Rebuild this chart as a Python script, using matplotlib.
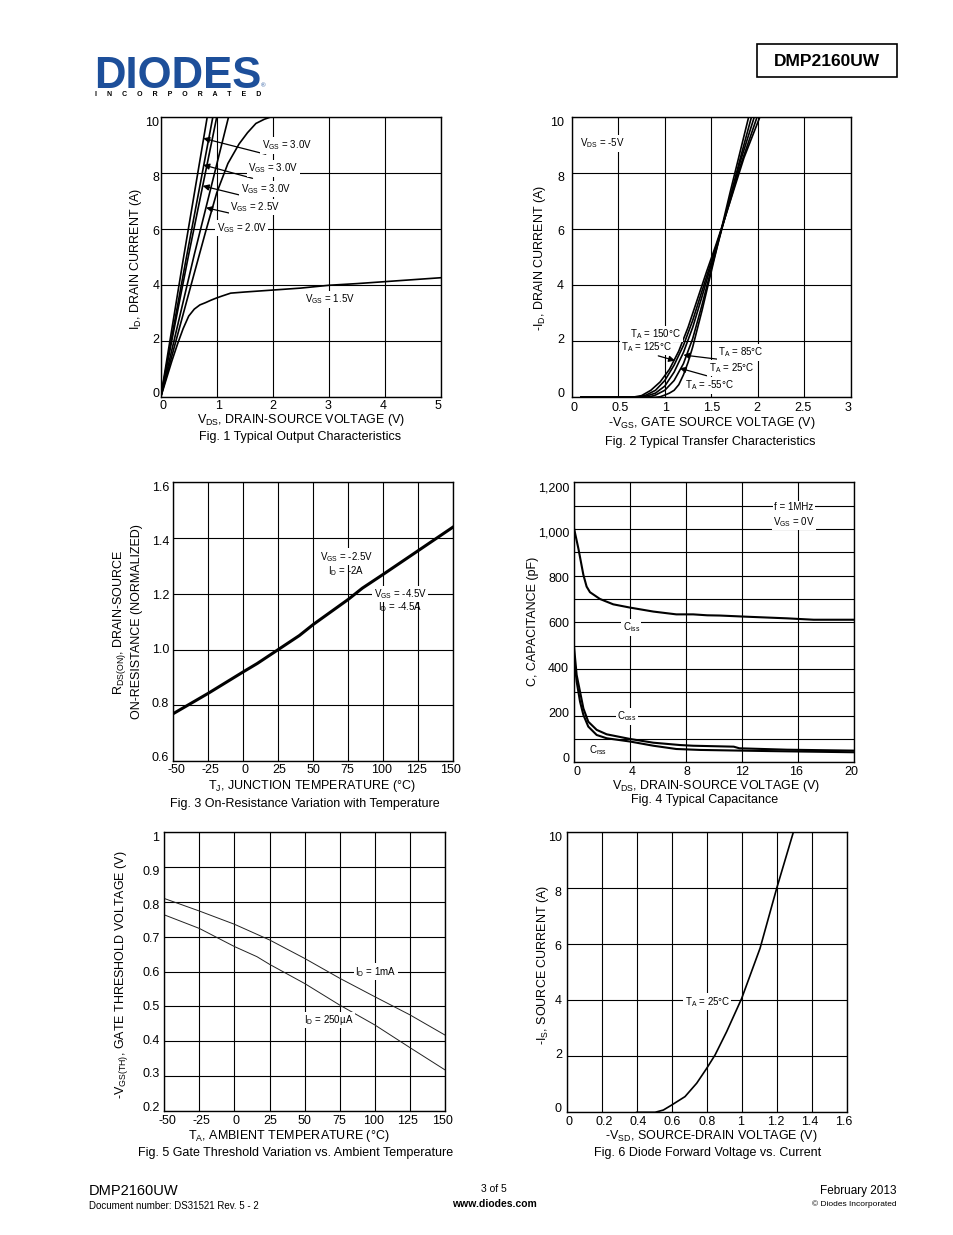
import matplotlib
matplotlib.use("Agg")
import matplotlib.pyplot as plt
from matplotlib.lines import Line2D
from matplotlib.patches import Rectangle
import numpy as np

plt.rcParams['font.family'] = ['Liberation Sans', 'DejaVu Sans']
plt.rcParams['mathtext.fontset'] = 'custom'
plt.rcParams['mathtext.rm'] = 'Liberation Sans'
plt.rcParams['mathtext.it'] = 'Liberation Sans:italic'
plt.rcParams['mathtext.bf'] = 'Liberation Sans:bold'

# ---------------- DATA ----------------
# Fig 1 : output characteristics
f1_vds_a = [0, 0.4, 0.83]
f1_id_a = [0, 4.9, 10]
f1_vds_b = [0, 0.45, 0.93]
f1_id_b = [0, 4.9, 10]
f1_vds_c = [0, 0.5, 1.0]
f1_id_c = [0, 5.1, 10]
f1_vds_25 = [0, 0.6, 1.21]
f1_id_25 = [0, 5.1, 10]
f1_vds_20 = [0, 0.5, 0.8, 1.0, 1.2, 1.4, 1.55, 1.7, 1.85, 1.95]
f1_id_20 = [0, 3.7, 5.9, 7.3, 8.35, 9.05, 9.45, 9.78, 9.93, 10.0]
f1_vds_15 = [0, 0.1, 0.2, 0.3, 0.4, 0.5, 0.6, 0.7, 0.8, 0.9, 1.0, 1.1, 1.25, 1.5, 2.0, 2.5, 3.0, 3.5, 4.0, 4.5, 5.0]
f1_id_15 = [0, 0.65, 1.3, 1.9, 2.45, 2.9, 3.15, 3.3, 3.38, 3.47, 3.55, 3.62, 3.72, 3.76, 3.83, 3.9, 4.0, 4.06, 4.13, 4.2, 4.27]
f1_xticks = [0, 1, 2, 3, 4, 5]
f1_yticks = [0, 2, 4, 6, 8, 10]

# Fig 2 : transfer characteristics
f2_vgs_m55 = [0.1, 0.9, 0.95, 1.0, 1.05, 1.1, 1.15, 1.2, 1.25, 1.3, 1.4, 1.5, 1.6, 1.7, 1.8, 1.9]
f2_id_m55 = [0, 0, 0.02, 0.08, 0.15, 0.25, 0.45, 0.8, 1.25, 1.8, 3.1, 4.5, 5.9, 7.3, 8.65, 10]
f2_vgs_25 = [0.1, 0.8, 0.85, 0.9, 1.0, 1.1, 1.2, 1.3, 1.4, 1.5, 1.6, 1.7, 1.8, 1.93]
f2_id_25 = [0, 0, 0.03, 0.08, 0.25, 0.6, 1.2, 2.1, 3.3, 4.6, 5.85, 7.1, 8.4, 10]
f2_vgs_85 = [0.1, 0.75, 0.8, 0.9, 1.0, 1.1, 1.2, 1.3, 1.4, 1.5, 1.6, 1.7, 1.8, 1.96]
f2_id_85 = [0, 0, 0.04, 0.15, 0.4, 0.9, 1.6, 2.5, 3.6, 4.75, 5.9, 7.1, 8.3, 10]
f2_vgs_125 = [0.1, 0.7, 0.8, 0.9, 1.0, 1.1, 1.2, 1.3, 1.4, 1.5, 1.6, 1.7, 1.8, 1.99]
f2_id_125 = [0, 0, 0.08, 0.25, 0.6, 1.15, 1.85, 2.75, 3.8, 4.85, 5.9, 7.0, 8.15, 10]
f2_vgs_150 = [0.1, 0.65, 0.75, 0.85, 0.95, 1.05, 1.15, 1.25, 1.35, 1.45, 1.55, 1.65, 1.75, 1.85, 2.02]
f2_id_150 = [0, 0, 0.06, 0.25, 0.55, 1.0, 1.65, 2.5, 3.5, 4.5, 5.45, 6.45, 7.5, 8.55, 10]
f2_xticks = [0, 0.5, 1, 1.5, 2, 2.5, 3]
f2_xlabels = ['0', '0.5', '1', '1.5', '2', '2.5', '3']
f2_yticks = [0, 2, 4, 6, 8, 10]

# Fig 3 : on-resistance vs temperature
f3_tj = [-50, -25, 0, 10, 25, 40, 50, 75, 85, 100, 125, 150]
f3_rds = [0.77, 0.843, 0.92, 0.95, 1.0, 1.05, 1.09, 1.18, 1.22, 1.27, 1.355, 1.44]
f3_xticks = [-50, -25, 0, 25, 50, 75, 100, 125, 150]
f3_yticks = [0.6, 0.8, 1.0, 1.2, 1.4, 1.6]
f3_ylabels = ['0.6', '0.8', '1.0', '1.2', '1.4', '1.6']

# Fig 4 : capacitance
f4_vds_ciss = [0, 0.31, 0.67, 0.9, 1.14, 1.85, 2.8, 4.0, 5.66, 7.3, 8.5, 9.5, 10.4, 12.3, 15.2, 17.1, 20]
f4_ciss = [1003, 917, 803, 753, 729, 700, 677, 663, 646, 634, 634, 630, 629, 624, 617, 611, 611]
f4_vds_coss = [0, 0.19, 0.43, 0.67, 1.02, 1.62, 2.33, 4.0, 5.66, 7.56, 8.5, 11.4, 11.8, 15.2, 20]
f4_coss = [496, 374, 303, 231, 174, 139, 120, 100, 84, 74, 71, 67, 60, 54, 50]
f4_vds_crss = [0, 0.19, 0.43, 0.67, 1.02, 1.62, 2.33, 4.0, 5.66, 7.3, 9.0, 14.0, 20]
f4_crss = [453, 346, 260, 203, 153, 117, 103, 89, 71, 57, 53, 48, 43]
f4_xticks = [0, 4, 8, 12, 16, 20]
f4_yticks = [0, 200, 400, 600, 800, 1000, 1200]
f4_ylabels = ['0', '200', '400', '600', '800', '1,000', '1,200']

# Fig 5 : gate threshold vs temperature
f5_ta = [-50, -25, 0, 25, 50, 75, 100, 125, 150]
f5_vth_1ma = [0.81, 0.774, 0.736, 0.691, 0.638, 0.581, 0.528, 0.476, 0.418]
f5_ta_250 = [-50, -25, 0, 16, 25, 50, 75, 100, 125, 150]
f5_vth_250ua = [0.763, 0.724, 0.672, 0.643, 0.621, 0.566, 0.504, 0.447, 0.382, 0.318]
f5_xticks = [-50, -25, 0, 25, 50, 75, 100, 125, 150]
f5_yticks = [0.2, 0.3, 0.4, 0.5, 0.6, 0.7, 0.8, 0.9, 1.0]
f5_ylabels = ['0.2', '0.3', '0.4', '0.5', '0.6', '0.7', '0.8', '0.9', '1']

# Fig 6 : diode forward voltage
f6_vsd = [0.4, 0.505, 0.552, 0.6, 0.676, 0.743, 0.8, 0.848, 0.914, 1.0, 1.105, 1.2, 1.295]
f6_is = [0, 0, 0.08, 0.26, 0.56, 1.04, 1.57, 2.05, 2.88, 4.07, 5.86, 8.0, 10]
f6_xticks = [0, 0.2, 0.4, 0.6, 0.8, 1.0, 1.2, 1.4, 1.6]
f6_xlabels = ['0', '0.2', '0.4', '0.6', '0.8', '1', '1.2', '1.4', '1.6']
f6_yticks = [0, 2, 4, 6, 8, 10]

# ---------------- FIGURE ----------------
W, H = 954, 1235
fig = plt.figure(figsize=(W / 100, H / 100), dpi=100)
fig.patch.set_facecolor('white')

TICK_FS = 9
ANN_FS = 7
BOX = dict(facecolor='white', edgecolor='none', pad=1.0)
KX, KY = 0.98, 0.967   # tick-label spread relative to the grid (as in the source drawing)


def add_ax(l, r, t, b):
    return fig.add_axes([l / W, 1 - b / H, (r - l) / W, (b - t) / H])


def ftext(x, y, s, **kw):
    return fig.text(x / W, 1 - y / H, s, **kw)


def squeeze(vals, lim, k):
    c = 0.5 * (lim[0] + lim[1])
    return [c + (v - c) * k for v in vals]


def style(ax, xlim, ylim, xticks, yticks, xlabels=None, ylabels=None,
          xgrid=None, ygrid=None, xpad=2, ypad=3):
    ax.set_xlim(*xlim)
    ax.set_ylim(*ylim)
    ax.set_xticks(squeeze(xticks, xlim, KX))
    ax.set_yticks(squeeze(yticks, ylim, KY))
    ax.set_xticklabels(xlabels if xlabels is not None else [str(v) for v in xticks])
    ax.set_yticklabels(ylabels if ylabels is not None else [str(v) for v in yticks])
    ax.tick_params(axis='both', which='both', length=0, labelsize=TICK_FS)
    ax.tick_params(axis='x', pad=xpad)
    ax.tick_params(axis='y', pad=ypad)
    gx = xticks if xgrid is None else xgrid
    gy = yticks if ygrid is None else ygrid
    for v in gx:
        ax.axvline(v, color='black', lw=0.8, zorder=1)
    for v in gy:
        ax.axhline(v, color='black', lw=0.8, zorder=1)
    for s in ax.spines.values():
        s.set_linewidth(1.0)
        s.set_zorder(5)


def arrow(ax, xy, xytext):
    ax.annotate('', xy=xy, xytext=xytext,
                arrowprops=dict(arrowstyle='-|>', color='black', lw=0.9,
                                mutation_scale=9, shrinkA=0, shrinkB=0),
                zorder=6)


VGS = r'V$_{\mathregular{GS}}$'
TA = r'T$_{\mathregular{A}}$'
ID = r'I$_{\mathregular{D}}$'

# ---- Fig 1 ----
ax1 = add_ax(160.7, 440.7, 117.3, 397.3)
style(ax1, (0, 5), (0, 10), f1_xticks, f1_yticks, xpad=2, ypad=1)
for xs, ys in [(f1_vds_a, f1_id_a), (f1_vds_b, f1_id_b), (f1_vds_c, f1_id_c),
               (f1_vds_25, f1_id_25), (f1_vds_20, f1_id_20), (f1_vds_15, f1_id_15)]:
    ax1.plot(xs, ys, color='black', lw=1.2, zorder=3, clip_on=True)
ax1.text(1.80, 9.0, VGS + ' = 3.0V', fontsize=ANN_FS, va='center', bbox=BOX, zorder=7)
arrow(ax1, (0.76, 9.25), (1.875, 8.68))
ax1.text(1.565, 8.18, VGS + ' = 3.0V', fontsize=ANN_FS, va='center', bbox=BOX, zorder=7)
arrow(ax1, (0.76, 8.30), (1.64, 7.82))
ax1.text(1.43, 7.44, VGS + ' = 3.0V', fontsize=ANN_FS, va='center', bbox=BOX, zorder=7)
arrow(ax1, (0.75, 7.55), (1.48, 7.19))
ax1.text(1.24, 6.79, VGS + ' = 2.5V', fontsize=ANN_FS, va='center', bbox=BOX, zorder=7)
arrow(ax1, (0.81, 6.77), (1.29, 6.55))
ax1.text(1.0, 6.04, VGS + ' = 2.0V', fontsize=ANN_FS, va='center', bbox=BOX, zorder=7)
ax1.text(2.58, 3.5, VGS + ' = 1.5V', fontsize=ANN_FS, va='center', bbox=BOX, zorder=7)
ftext(301, 420, r'V$_{\mathregular{DS}}$, DRAIN-SOURCE VOLTAGE (V)', fontsize=9, ha='center', va='center')
ftext(300, 437, 'Fig. 1 Typical Output Characteristics', fontsize=9, ha='center', va='center')
ftext(136, 259, r'I$_{\mathregular{D}}$, DRAIN CURRENT (A)', fontsize=9, ha='center', va='center', rotation=90)

# ---- Fig 2 ----
ax2 = add_ax(571.7, 851, 117.3, 397.3)
style(ax2, (0, 3), (0, 10), f2_xticks, f2_yticks, xlabels=f2_xlabels, xpad=3.5, ypad=5.5)
for xs, ys in [(f2_vgs_m55, f2_id_m55), (f2_vgs_25, f2_id_25), (f2_vgs_85, f2_id_85),
               (f2_vgs_125, f2_id_125), (f2_vgs_150, f2_id_150)]:
    ax2.plot(xs, ys, color='black', lw=1.2, zorder=3)
ax2.text(0.09, 9.07, r'V$_{\mathregular{DS}}$ = -5V', fontsize=ANN_FS, va='center', bbox=BOX, zorder=7)
ax2.text(0.63, 2.26, TA + ' = 150°C', fontsize=ANN_FS, va='center', bbox=BOX, zorder=7)
ax2.text(0.53, 1.79, TA + ' = 125°C', fontsize=ANN_FS, va='center', bbox=BOX, zorder=7)
arrow(ax2, (1.11, 1.31), (0.93, 1.48))
ax2.text(1.57, 1.6, TA + ' = 85°C', fontsize=ANN_FS, va='center', bbox=BOX, zorder=7)
arrow(ax2, (1.2, 1.51), (1.57, 1.36))
ax2.text(1.47, 1.04, TA + ' = 25°C', fontsize=ANN_FS, va='center', bbox=BOX, zorder=7)
arrow(ax2, (1.16, 1.04), (1.45, 0.77))
ax2.text(1.22, 0.43, TA + ' = -55°C', fontsize=ANN_FS, va='center', bbox=BOX, zorder=7)
ftext(712, 423, r'-V$_{\mathregular{GS}}$, GATE SOURCE VOLTAGE (V)', fontsize=9, ha='center', va='center')
ftext(710, 442, 'Fig. 2 Typical Transfer Characteristics', fontsize=9, ha='center', va='center')
ftext(540, 258, r'-I$_{\mathregular{D}}$, DRAIN CURRENT (A)', fontsize=9, ha='center', va='center', rotation=90)

# ---- Fig 3 ----
ax3 = add_ax(173.3, 453.3, 482.3, 761)
style(ax3, (-50, 150), (0.6, 1.6), f3_xticks, f3_yticks, ylabels=f3_ylabels, xpad=2, ypad=3)
ax3.plot(f3_tj, f3_rds, color='black', lw=2.2, zorder=3)
ax3.text(73.8, 1.333, VGS + ' = -2.5V', fontsize=ANN_FS, ha='center', va='center', bbox=BOX, zorder=7)
ax3.text(73.8, 1.283, ID + ' = -2A', fontsize=ANN_FS, ha='center', va='center', zorder=7)
ax3.text(112, 1.2, VGS + ' = -4.5V', fontsize=ANN_FS, ha='center', va='center', bbox=BOX, zorder=7)
ax3.text(112, 1.154, ID + ' = -4.5A', fontsize=ANN_FS, ha='center', va='center', zorder=7)
ftext(312, 786, r'T$_{\mathregular{J}}$, JUNCTION TEMPERATURE (°C)', fontsize=9, ha='center', va='center')
ftext(305, 804, 'Fig. 3 On-Resistance Variation with Temperature', fontsize=9, ha='center', va='center')
ftext(120, 622, r'R$_{\mathregular{DS(ON)}}$, DRAIN-SOURCE', fontsize=9, ha='center', va='center', rotation=90)
ftext(137, 622, 'ON-RESISTANCE (NORMALIZED)', fontsize=9, ha='center', va='center', rotation=90)

# ---- Fig 4 ----
ax4 = add_ax(574, 854.3, 482.3, 762.3)
style(ax4, (0, 20), (0, 1200), f4_xticks, f4_yticks, ylabels=f4_ylabels,
      ygrid=list(range(0, 1201, 100)), xpad=2.5, ypad=3.5)
ax4.plot(f4_vds_ciss, f4_ciss, color='black', lw=1.5, zorder=3)
ax4.plot(f4_vds_coss, f4_coss, color='black', lw=1.5, zorder=3)
ax4.plot(f4_vds_crss, f4_crss, color='black', lw=1.5, zorder=3)
ax4.text(15.7, 1093, 'f = 1MHz', fontsize=ANN_FS, ha='center', va='center', bbox=BOX, zorder=7)
ax4.text(15.7, 1029, VGS + ' = 0V', fontsize=ANN_FS, ha='center', va='center', bbox=BOX, zorder=7)
ax4.text(4.1, 578, r'C$_{\mathregular{iss}}$', fontsize=ANN_FS, ha='center', va='center', bbox=BOX, zorder=7)
ax4.text(3.8, 196, r'C$_{\mathregular{oss}}$', fontsize=ANN_FS, ha='center', va='center', bbox=BOX, zorder=7)
ax4.text(1.73, 53, r'C$_{\mathregular{rss}}$', fontsize=ANN_FS, ha='center', va='center', zorder=7)
ftext(716, 786, r'V$_{\mathregular{DS}}$, DRAIN-SOURCE VOLTAGE (V)', fontsize=9, ha='center', va='center')
ftext(705, 800, 'Fig. 4 Typical Capacitance', fontsize=9, ha='center', va='center')
ftext(533, 621, 'C, CAPACITANCE (pF)', fontsize=9, ha='center', va='center', rotation=90)

# ---- Fig 5 ----
ax5 = add_ax(164.3, 445, 832.3, 1111)
style(ax5, (-50, 150), (0.2, 1.0), f5_xticks, f5_yticks, ylabels=f5_ylabels, xpad=3, ypad=3.5)
ax5.plot(f5_ta, f5_vth_1ma, color='#222222', lw=0.7, zorder=3)
ax5.plot(f5_ta_250, f5_vth_250ua, color='#222222', lw=0.7, zorder=3)
ax5.text(100.6, 0.6, ID + ' = 1mA', fontsize=ANN_FS, ha='center', va='center', bbox=BOX, zorder=7)
ax5.text(67.3, 0.461, ID + ' = 250µA', fontsize=ANN_FS, ha='center', va='center', bbox=BOX, zorder=7)
ftext(289, 1136, r'T$_{\mathregular{A}}$, AMBIENT TEMPERATURE (°C)', fontsize=9, ha='center', va='center')
ftext(296, 1153, 'Fig. 5 Gate Threshold Variation vs. Ambient Temperature', fontsize=9, ha='center', va='center')
ftext(122, 975, r'-V$_{\mathregular{GS(TH)}}$, GATE THRESHOLD VOLTAGE (V)', fontsize=9, ha='center', va='center', rotation=90)

# ---- Fig 6 ----
ax6 = add_ax(566.7, 846.7, 832.3, 1112.3)
style(ax6, (0, 1.6), (0, 10), f6_xticks, f6_yticks, xlabels=f6_xlabels, xpad=2.5, ypad=3.5)
ax6.plot(f6_vsd, f6_is, color='black', lw=1.2, zorder=3)
ax6.text(0.804, 3.95, TA + ' = 25°C', fontsize=ANN_FS, ha='center', va='center', bbox=BOX, zorder=7)
ftext(711, 1136, r'-V$_{\mathregular{SD}}$, SOURCE-DRAIN VOLTAGE (V)', fontsize=9, ha='center', va='center')
ftext(708, 1153, 'Fig. 6 Diode Forward Voltage vs. Current', fontsize=9, ha='center', va='center')
ftext(543, 965, r'-I$_{\mathregular{S}}$, SOURCE CURRENT (A)', fontsize=9, ha='center', va='center', rotation=90)

# ---------------- HEADER ----------------
LOGO_BLUE = '#1d4f9a'
ftext(94, 88, 'DIODES', fontsize=31.5, fontweight='bold', color=LOGO_BLUE, ha='left', va='baseline')
fig.add_artist(Line2D([95 / W, 190 / W], [1 - 72 / H, 1 - 72 / H], color='white', lw=1.6))
ftext(95, 94, '     '.join('INCORPORATED'), fontsize=5, fontweight='bold', color='black',
      ha='left', va='center')
ftext(263, 86, '®', fontsize=4.5, color=LOGO_BLUE, ha='center', va='center')

fig.add_artist(Rectangle((757 / W, 1 - 77 / H), 140 / W, 33 / H, fill=False,
                         edgecolor='black', lw=1.2, transform=fig.transFigure))
ftext(827, 61, 'DMP2160UW', fontsize=12.5, fontweight='bold', ha='center', va='center')

# ---------------- FOOTER ----------------
ftext(89, 1191, 'DMP2160UW', fontsize=10.5, ha='left', va='center')
ftext(89, 1206, 'Document number: DS31521 Rev. 5 - 2', fontsize=7, ha='left', va='center')
ftext(494, 1189, '3 of 5', fontsize=7.5, ha='center', va='center')
ftext(494, 1204, 'www.diodes.com', fontsize=7.5, fontweight='bold', ha='center', va='center')
ftext(897, 1191, 'February 2013', fontsize=8.5, ha='right', va='center')
ftext(897, 1204, '© Diodes Incorporated', fontsize=6, ha='right', va='center')

fig.savefig('out.png', dpi=100, facecolor='white')
